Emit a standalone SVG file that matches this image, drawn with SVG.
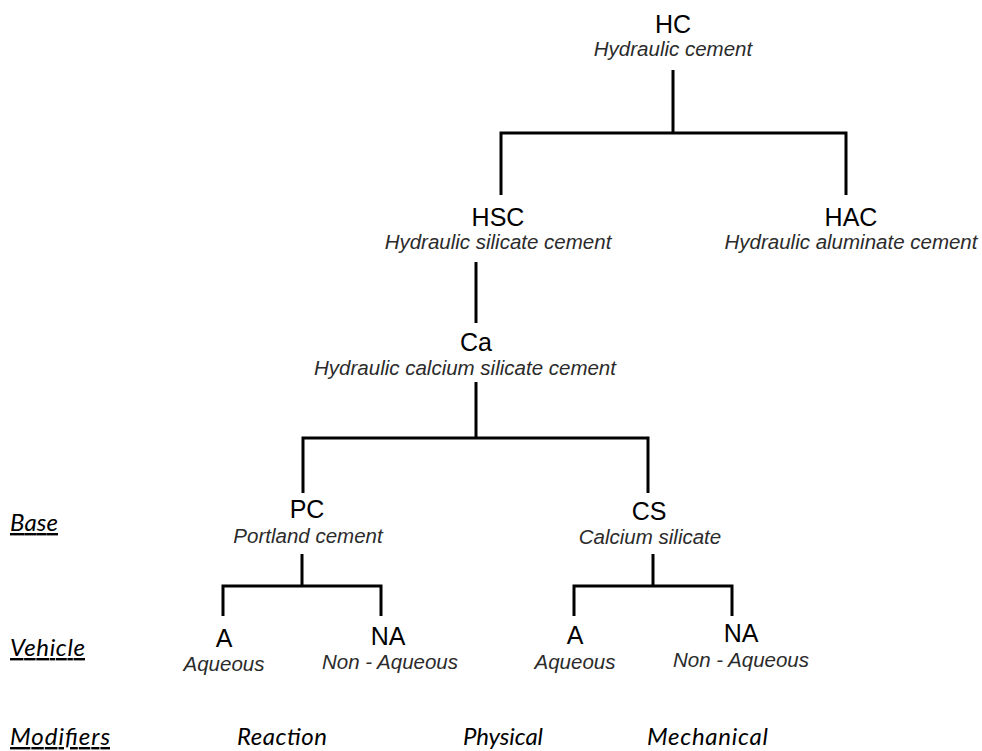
<svg xmlns="http://www.w3.org/2000/svg" width="982" height="751" viewBox="0 0 982 751">
<style>
.t{font-family:"Liberation Sans",Arial,sans-serif;font-size:25px;fill:#000;text-anchor:middle}
.s{font-family:"Liberation Sans",Arial,sans-serif;font-size:20.5px;font-style:italic;fill:#2b2b2b;text-anchor:middle}
.l{font-family:Lato,"Open Sans",sans-serif;font-size:24px;font-style:italic;fill:#000}
.u{text-decoration:underline}
.c{fill:none;stroke:#000;stroke-width:3}
</style>
<rect width="982" height="751" fill="#fff"/>
<g id="connectors">
<path class="c" d="M673,70V133M501,195V133H846V195"/>
<path class="c" d="M476,262V323"/>
<path class="c" d="M476,382V438M303,493V438H648V493"/>
<path class="c" d="M302,554V586M223,616V586H381V616"/>
<path class="c" d="M653,554V586M574,616V586H732V616"/>
</g>
<g id="node-HC"><text class="t" x="673" y="33">HC</text><text class="s" x="673" y="56">Hydraulic cement</text></g>
<g id="node-HSC"><text class="t" x="498" y="226">HSC</text><text class="s" x="498" y="249">Hydraulic silicate cement</text></g>
<g id="node-HAC"><text class="t" x="851" y="226">HAC</text><text class="s" x="851" y="249">Hydraulic aluminate cement</text></g>
<g id="node-Ca"><text class="t" x="476" y="351">Ca</text><text class="s" x="465" y="375">Hydraulic calcium silicate cement</text></g>
<g id="node-PC"><text class="t" x="307" y="518">PC</text><text class="s" x="308" y="543">Portland cement</text></g>
<g id="node-CS"><text class="t" x="649" y="520">CS</text><text class="s" x="650" y="544">Calcium silicate</text></g>
<g id="node-A1"><text class="t" x="224" y="647">A</text><text class="s" x="224" y="671">Aqueous</text></g>
<g id="node-NA1"><text class="t" x="388" y="645">NA</text><text class="s" x="390" y="669">Non - Aqueous</text></g>
<g id="node-A2"><text class="t" x="575" y="644">A</text><text class="s" x="575" y="669">Aqueous</text></g>
<g id="node-NA2"><text class="t" x="741" y="642">NA</text><text class="s" x="741" y="667">Non - Aqueous</text></g>
<g id="labels">
<text class="l u" x="10" y="531" textLength="48">Base</text>
<text class="l u" x="10" y="656" textLength="75">Vehicle</text>
<text class="l u" x="10" y="745" textLength="100">Modifiers</text>
<text class="l" x="237" y="745" textLength="90">Reaction</text>
<text class="l" x="463" y="745" textLength="80">Physical</text>
<text class="l" x="647" y="745" textLength="121">Mechanical</text>
</g>
</svg>
